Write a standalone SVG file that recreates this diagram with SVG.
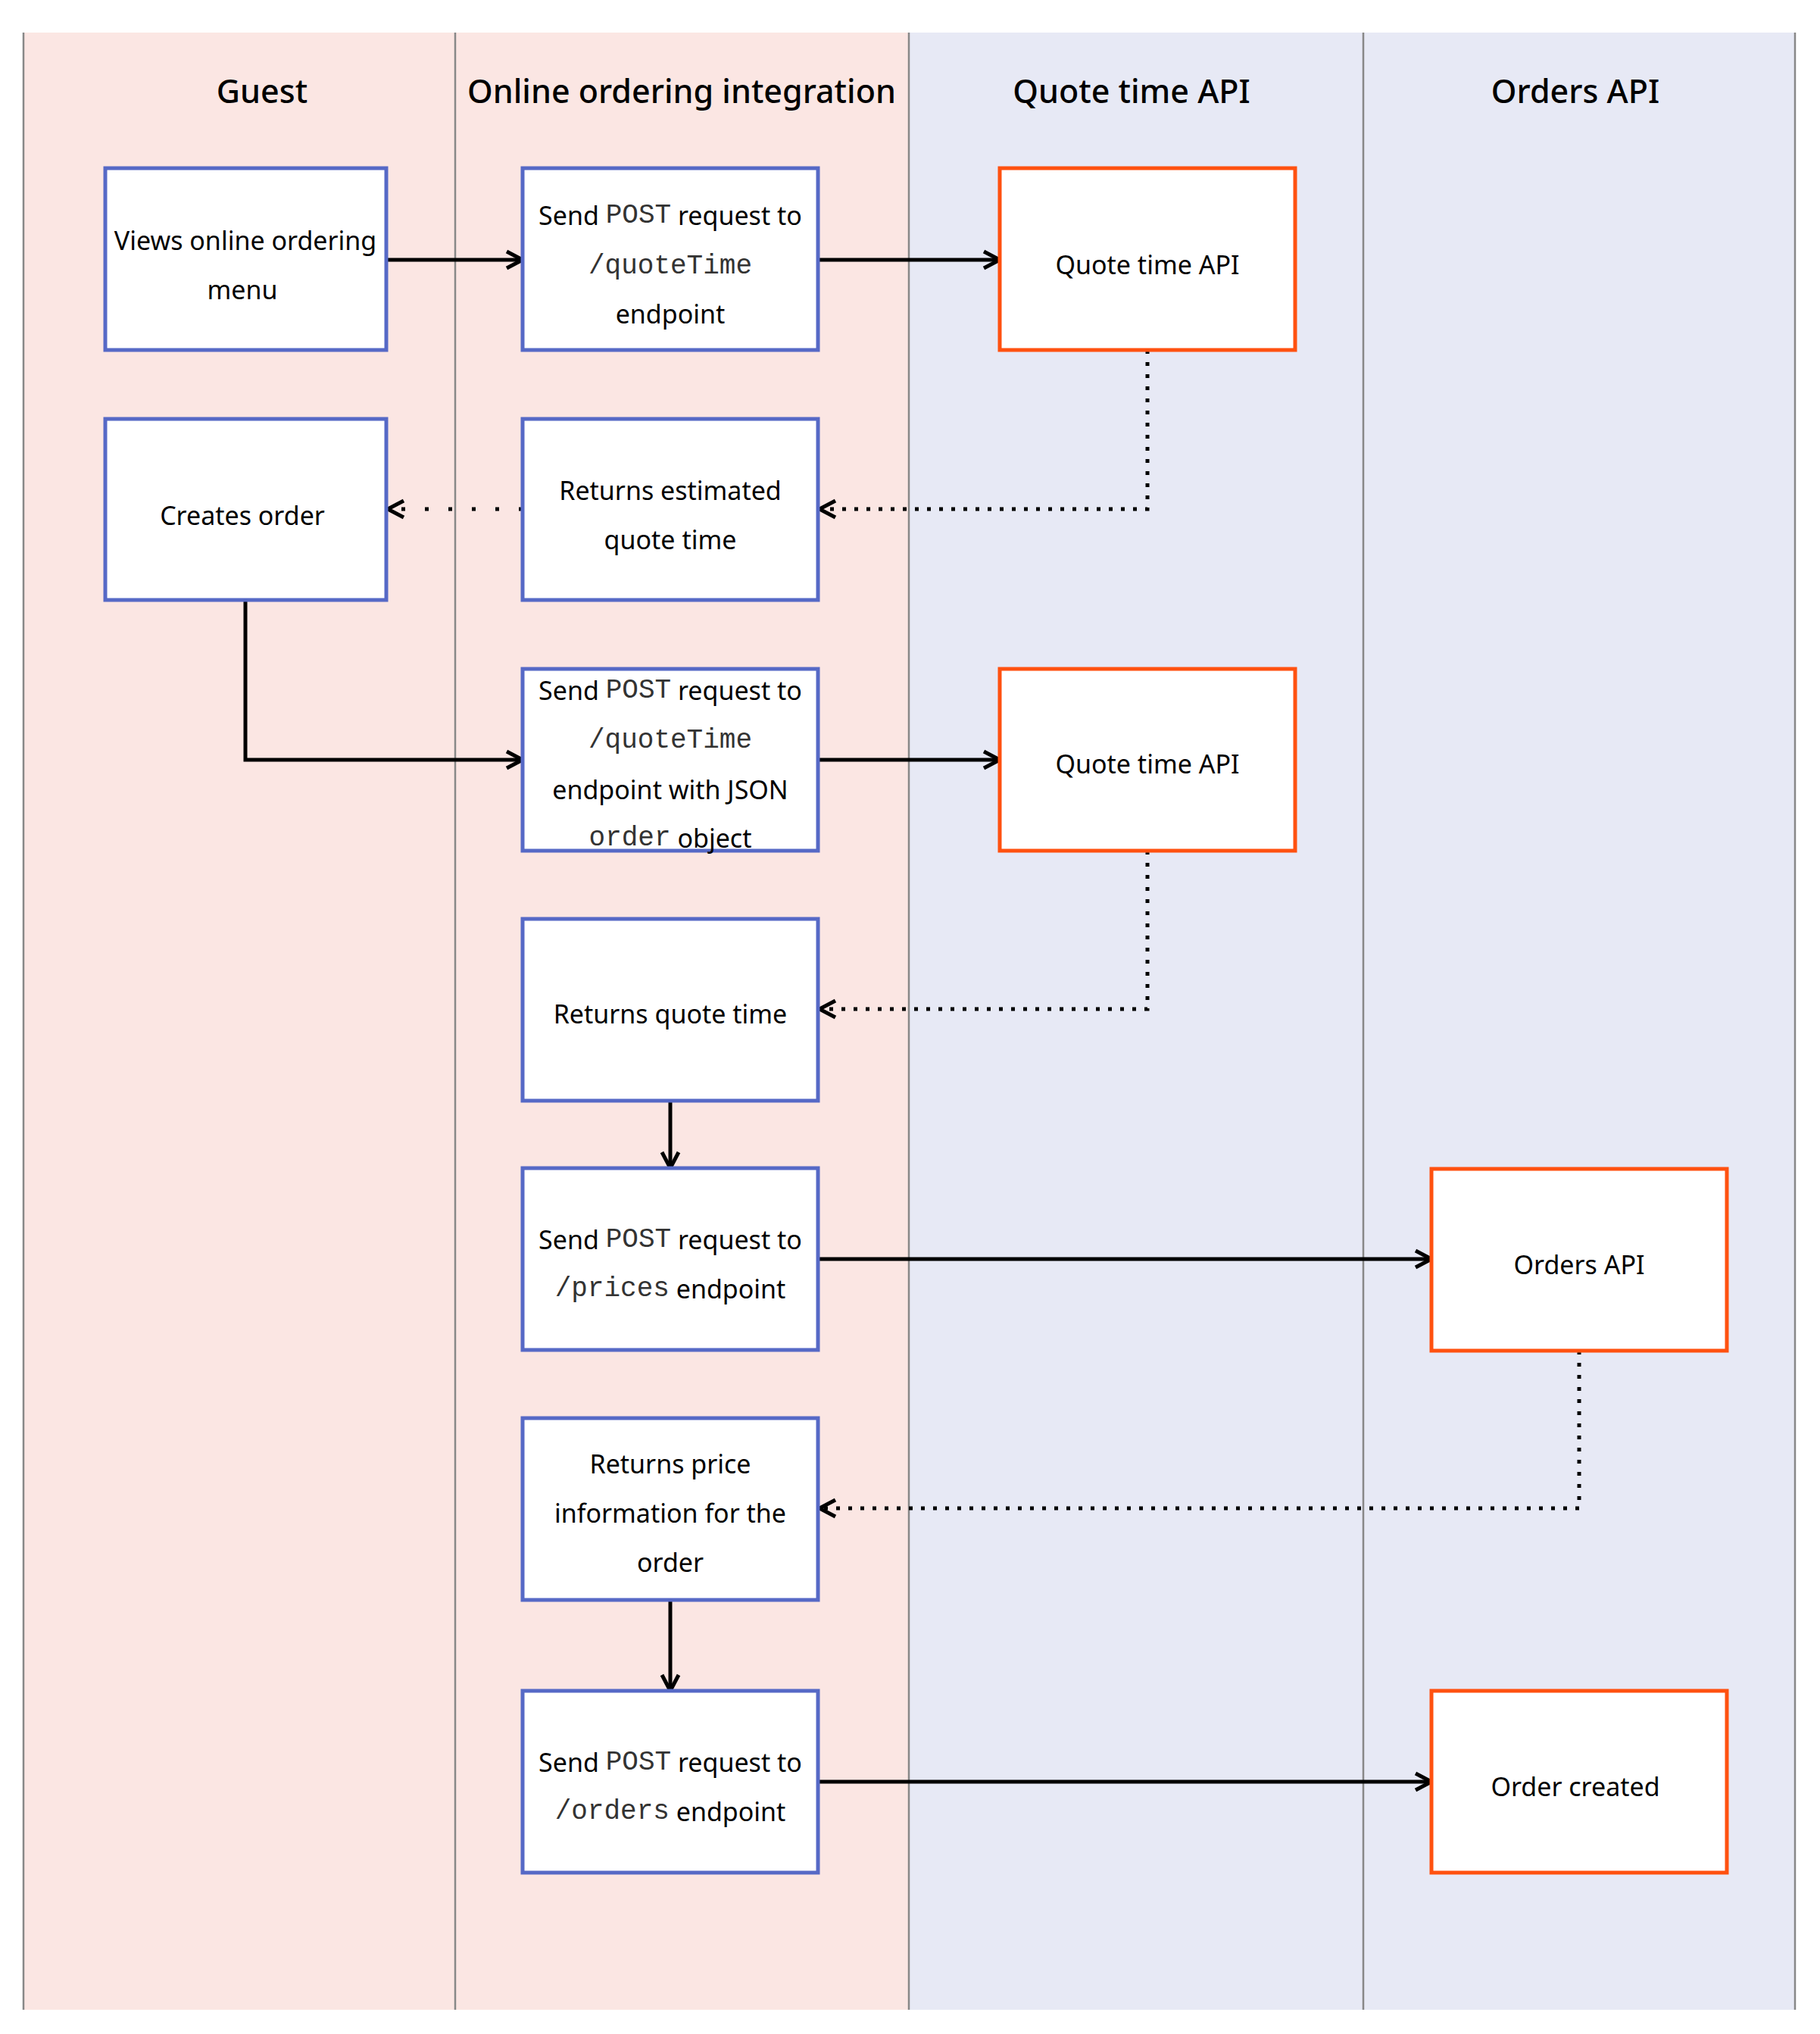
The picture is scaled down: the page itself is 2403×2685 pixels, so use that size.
<svg xmlns="http://www.w3.org/2000/svg" width="2403" height="2685" viewBox="0 0 2403 2685">
<style>
.lane{stroke:#888;stroke-width:2.5}
.hd{font-family:"Noto Sans",sans-serif;font-size:43px;font-weight:500;text-anchor:middle;fill:#000}
.t{font-family:"Noto Sans",sans-serif;font-size:34px;text-anchor:middle;fill:#000;dominant-baseline:central}
.m{font-family:"Liberation Mono",monospace;font-size:36px;fill:#333}
.b rect{fill:#fff;stroke:#5669c6;stroke-width:5}
.o rect{fill:#fff;stroke:#ff5110;stroke-width:5}
.c{fill:none;stroke:#000;stroke-width:5}
.d{fill:none;stroke:#000;stroke-width:5;stroke-dasharray:5 11}
</style>
<defs>
<marker id="a" viewBox="0 0 32 32" refX="29" refY="16" markerWidth="32" markerHeight="32" markerUnits="userSpaceOnUse" orient="auto"><path d="M8 5 L29 16 L8 27" fill="none" stroke="#000" stroke-width="5"/></marker>
</defs>
<rect width="2403" height="2685" fill="#fff"/>
<g id="lanes">
<rect x="31" y="43" width="1169" height="2610" fill="#fbe6e3"/>
<rect x="1200" y="43" width="1170" height="2610" fill="#e7e9f5"/>
<line class="lane" x1="31" y1="43" x2="31" y2="2653"/>
<line class="lane" x1="601" y1="43" x2="601" y2="2653"/>
<line class="lane" x1="1200" y1="43" x2="1200" y2="2653"/>
<line class="lane" x1="1800" y1="43" x2="1800" y2="2653"/>
<line class="lane" x1="2370" y1="43" x2="2370" y2="2653"/>
<text class="hd" x="346" y="136">Guest</text>
<text class="hd" x="900" y="136">Online ordering integration</text>
<text class="hd" x="1494" y="136">Quote time API</text>
<text class="hd" x="2080" y="136">Orders API</text>
</g>
<g id="connectors">
<path class="c" d="M510 343 H690" marker-end="url(#a)"/>
<path class="c" d="M1080 343 H1320" marker-end="url(#a)"/>
<path class="d" d="M1515 462 V672 H1082" marker-end="url(#a)"/>
<path class="c" d="M690 672 H512" stroke-dasharray="5 26" marker-end="url(#a)"/>
<path class="c" d="M324 792 V1003 H690" marker-end="url(#a)"/>
<path class="c" d="M1080 1003 H1320" marker-end="url(#a)"/>
<path class="d" d="M1515 1123 V1332 H1082" marker-end="url(#a)"/>
<path class="c" d="M885 1453 V1542" marker-end="url(#a)"/>
<path class="c" d="M1080 1662 H1890" marker-end="url(#a)"/>
<path class="d" d="M2085 1783 V1991 H1082" marker-end="url(#a)"/>
<path class="c" d="M885 2112 V2232" marker-end="url(#a)"/>
<path class="c" d="M1080 2352 H1890" marker-end="url(#a)"/>
</g>
<g id="n1" class="b"><rect x="139" y="222" width="371" height="240"/>
<text class="t" x="324" y="317">Views online ordering</text><text class="t" x="320" y="382">menu</text></g>
<g id="n2" class="b"><rect x="690" y="222" width="390" height="240"/>
<text class="t" x="885" y="284">Send <tspan class="m">POST</tspan> request to</text>
<text class="t" x="885" y="351"><tspan class="m">/quoteTime</tspan></text>
<text class="t" x="885" y="414">endpoint</text></g>
<g id="n3" class="o"><rect x="1320" y="222" width="390" height="240"/>
<text class="t" x="1515" y="349">Quote time API</text></g>
<g id="n4" class="b"><rect x="139" y="553" width="371" height="239"/>
<text class="t" x="320" y="680">Creates order</text></g>
<g id="n5" class="b"><rect x="690" y="553" width="390" height="239"/>
<text class="t" x="885" y="647">Returns estimated</text><text class="t" x="885" y="712">quote time</text></g>
<g id="n6" class="b"><rect x="690" y="883" width="390" height="240"/>
<text class="t" x="885" y="911">Send <tspan class="m">POST</tspan> request to</text>
<text class="t" x="885" y="977"><tspan class="m">/quoteTime</tspan></text>
<text class="t" x="885" y="1042">endpoint with JSON</text>
<text class="t" x="885" y="1106"><tspan class="m">order</tspan> object</text></g>
<g id="n7" class="o"><rect x="1320" y="883" width="390" height="240"/>
<text class="t" x="1515" y="1008">Quote time API</text></g>
<g id="n8" class="b"><rect x="690" y="1213" width="390" height="240"/>
<text class="t" x="885" y="1338">Returns quote time</text></g>
<g id="n9" class="b"><rect x="690" y="1542" width="390" height="240"/>
<text class="t" x="885" y="1636">Send <tspan class="m">POST</tspan> request to</text>
<text class="t" x="885" y="1701"><tspan class="m">/prices</tspan> endpoint</text></g>
<g id="n10" class="o"><rect x="1890" y="1543" width="390" height="240"/>
<text class="t" x="2085" y="1669">Orders API</text></g>
<g id="n11" class="b"><rect x="690" y="1872" width="390" height="240"/>
<text class="t" x="885" y="1932">Returns price</text><text class="t" x="885" y="1997">information for the</text><text class="t" x="885" y="2062">order</text></g>
<g id="n12" class="b"><rect x="690" y="2232" width="390" height="240"/>
<text class="t" x="885" y="2326">Send <tspan class="m">POST</tspan> request to</text>
<text class="t" x="885" y="2391"><tspan class="m">/orders</tspan> endpoint</text></g>
<g id="n13" class="o"><rect x="1890" y="2232" width="390" height="240"/>
<text class="t" x="2080" y="2358">Order created</text></g>
</svg>
